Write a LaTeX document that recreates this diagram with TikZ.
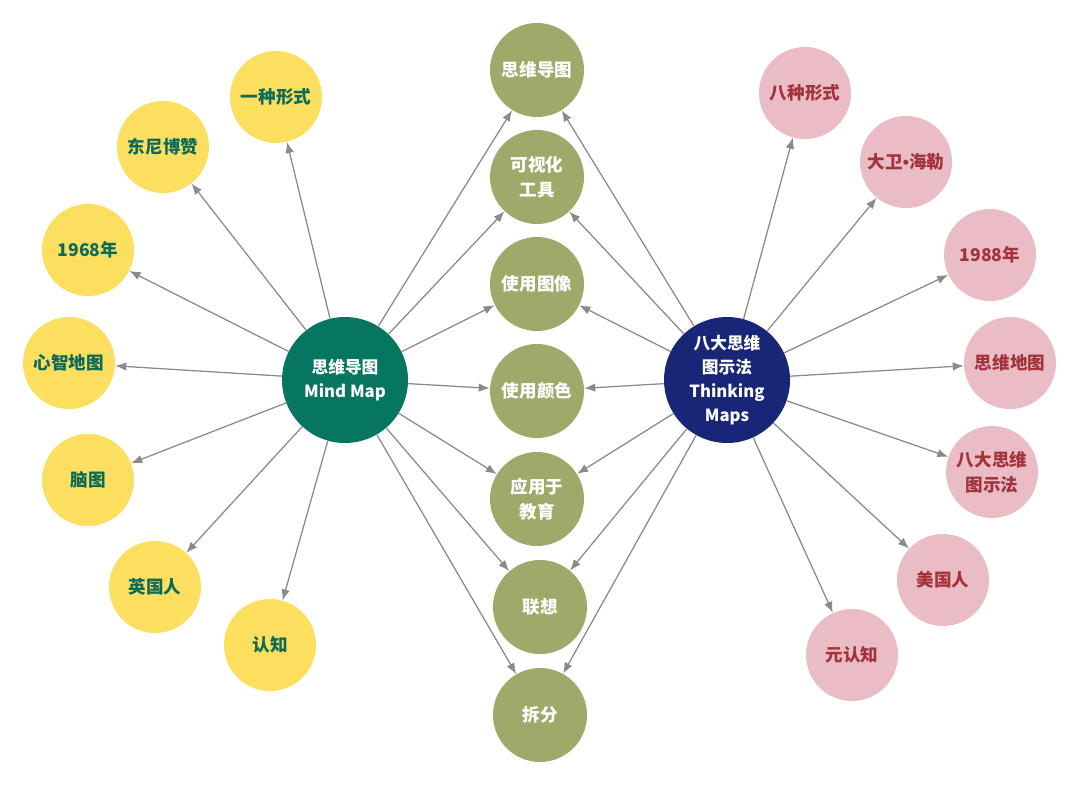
\documentclass[tikz,border=0pt]{standalone}
\usepackage{fontspec}
\setmainfont{Noto Sans CJK SC}
\newfontfamily\dotfont{Liberation Sans}
\usetikzlibrary{arrows.meta}

\definecolor{mmgreen}{HTML}{067660}
\definecolor{tmblue}{HTML}{172677}
\definecolor{olive}{HTML}{9DAA69}
\definecolor{sun}{HTML}{FCDF5E}
\definecolor{rose}{HTML}{E9BCC6}
\definecolor{teal}{HTML}{0C6A58}
\definecolor{wine}{HTML}{A4323A}
\definecolor{linkgray}{HTML}{8A8A8A}

\tikzset{
	bubble/.style={circle,inner sep=0pt,align=center,font=\fontsize{10}{14}\selectfont\bfseries},
	hub/.style={bubble,minimum size=25.2mm,text=white,font=\fontsize{9.5}{13.5}\selectfont\bfseries},
	mid/.style={bubble,minimum size=18.8mm,fill=olive,text=white},
	leftleaf/.style={bubble,minimum size=18.4mm,fill=sun,text=teal},
	rightleaf/.style={bubble,minimum size=18.4mm,fill=rose,text=wine},
	link/.style={->,draw=linkgray,fill=linkgray,line width=0.25mm}
}

\begin{document}
\begin{tikzpicture}[x=0.2mm,y=-0.2mm,>={Latex[length=2.2mm,width=1.7mm]}]

\useasboundingbox (0,0) rectangle (1080,785);

\node [hub,fill=mmgreen] (mm) at (345,380) {思维导图\\Mind Map};
\node [hub,fill=tmblue] (tm) at (727,380) {八大思维\\图示法\\Thinking\\Maps};

% shared middle column
\foreach \n/\x/\y/\t in {m1/537/70/思维导图, m2/537/177/可视化\\工具, m3/537/284/使用图像,
	m4/537/391/使用颜色, m5/537/499/应用于\\教育, m6/540/607/联想, m7/540/715/拆分} {
	\node [mid] (\n) at (\x,\y) {\t};
	\draw [link] (mm) -- (\n);
	\draw [link] (tm) -- (\n);
}

% mind map side
\foreach \n/\x/\y/\t in {l1/276/97/一种形式, l2/163/147/东尼博赞, l3/88/250/1968年,
	l4/69/363/心智地图, l5/88/480/脑图, l6/155/587/英国人, l7/270/645/认知} {
	\node [leftleaf] (\n) at (\x,\y) {\t};
	\draw [link] (mm) -- (\n);
}

% thinking maps side
\foreach \n/\x/\y/\t in {r1/805/93/八种形式, r2/906/162/大卫{\dotfont •}海勒, r3/990/255/1988年,
	r4/1010/363/思维地图, r5/992/472/八大思维\\图示法, r6/943/580/美国人, r7/852/655/元认知} {
	\node [rightleaf] (\n) at (\x,\y) {\t};
	\draw [link] (tm) -- (\n);
}

\end{tikzpicture}
\end{document}
